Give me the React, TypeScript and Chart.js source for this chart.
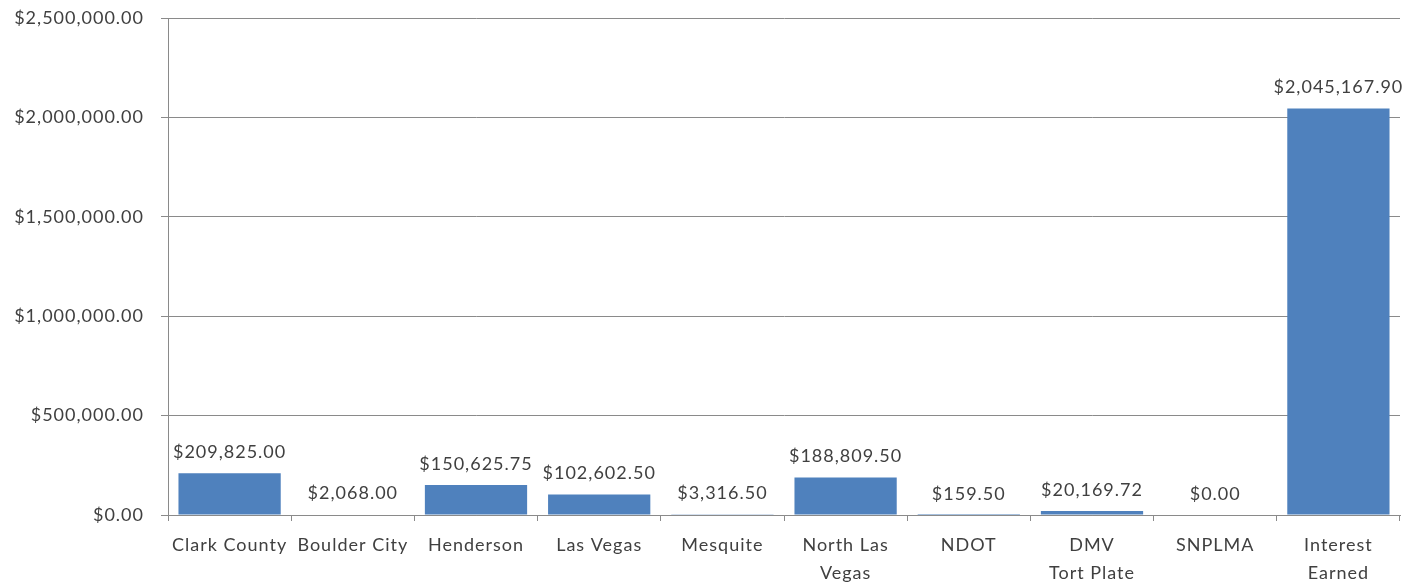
import React, { useEffect, useRef } from "react";
import { Chart, registerables } from "chart.js";

Chart.register(...registerables);

const categories: (string | string[])[] = [
  "Clark County",
  "Boulder City",
  "Henderson",
  "Las Vegas",
  "Mesquite",
  ["North Las", "Vegas"],
  "NDOT",
  ["DMV", "Tort Plate"],
  "SNPLMA",
  ["Interest", "Earned"],
];

const amounts: number[] = [
  209825.0, 2068.0, 150625.75, 102602.5, 3316.5, 188809.5, 159.5, 20169.72, 0.0, 2045167.9,
];

const yTickValues: number[] = [0, 500000, 1000000, 1500000, 2000000, 2500000];

const fmt = (v: number) =>
  "$" + v.toLocaleString("en-US", { minimumFractionDigits: 2, maximumFractionDigits: 2 });

const FONT = "Lato";
const FSIZE = 18;
const SPACING = "1px";
const TEXT = "#404040";
const GRID = "#8a8a8a";

const spacingPlugin = {
  id: "spacing",
  beforeLayout(chart: any) {
    chart.ctx.letterSpacing = SPACING;
  },
  beforeDraw(chart: any) {
    chart.ctx.letterSpacing = SPACING;
  },
};

const valueLabels = {
  id: "valueLabels",
  afterDatasetsDraw(chart: any) {
    const ctx = chart.ctx;
    const meta = chart.getDatasetMeta(0);
    ctx.save();
    ctx.letterSpacing = SPACING;
    ctx.font = `${FSIZE}px ${FONT}`;
    ctx.fillStyle = TEXT;
    ctx.textAlign = "center";
    ctx.textBaseline = "middle";
    meta.data.forEach((bar: any, i: number) => {
      ctx.fillText(fmt(amounts[i]), bar.x, bar.y - 21);
    });
    ctx.restore();
  },
};

export default function App() {
  const ref = useRef<HTMLCanvasElement | null>(null);
  useEffect(() => {
    if (!ref.current) return;
    const chart = new Chart(ref.current, {
      type: "bar",
      data: {
        labels: categories,
        datasets: [
          {
            data: amounts,
            backgroundColor: "#4F81BD",
            borderWidth: 0,
            barPercentage: 0.83,
            categoryPercentage: 1,
          },
        ],
      },
      options: {
        animation: false,
        responsive: false,
        maintainAspectRatio: false,
        layout: { padding: { top: 18, right: 21, bottom: 0, left: 0 } },
        plugins: {
          legend: { display: false },
          tooltip: { enabled: false },
        },
        scales: {
          x: {
            offset: true,
            afterFit: (s: any) => {
              s.height = 69;
            },
            grid: {
              offset: true,
              drawOnChartArea: false,
              drawTicks: true,
              tickLength: 6,
              color: GRID,
            },
            border: { display: true, color: GRID, width: 1 },
            ticks: {
              color: TEXT,
              font: { family: FONT, size: FSIZE, lineHeight: 1.55 },
              padding: 10,
              maxRotation: 0,
              autoSkip: false,
            },
          },
          y: {
            min: 0,
            max: 2500000,
            afterFit: (s: any) => {
              s.width = 168;
              s.paddingTop = 0;
              s.paddingBottom = 0;
            },
            afterBuildTicks: (s: any) => {
              s.ticks = yTickValues.map((v) => ({ value: v }));
            },
            grid: {
              color: GRID,
              lineWidth: 1,
              drawTicks: true,
              tickLength: 7,
            },
            border: { display: true, color: GRID, width: 1 },
            ticks: {
              color: TEXT,
              font: { family: FONT, size: FSIZE },
              padding: 17,
              callback: (v: any) => fmt(Number(v)),
            },
          },
        },
      },
      plugins: [spacingPlugin, valueLabels],
    });
    return () => chart.destroy();
  }, []);
  return (
    <div style={{ position: "fixed", left: 0, top: 0, width: 1421, height: 584, background: "#fff" }}>
      <canvas ref={ref} width={1421} height={584} style={{ width: 1421, height: 584 }} />
    </div>
  );
}
